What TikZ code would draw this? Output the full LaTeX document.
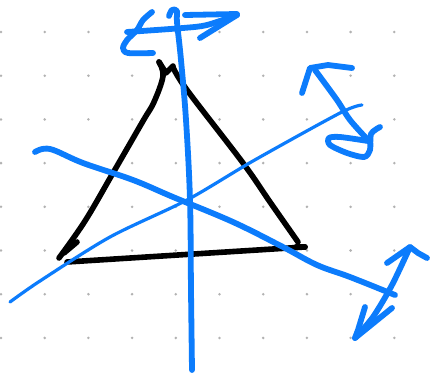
\documentclass[tikz,border=0pt]{standalone}
\definecolor{sketchblue}{RGB}{12,124,252}
\begin{document}
\begin{tikzpicture}[x=1pt, y=-1pt, line cap=round, line join=round,
    ink/.style={line width=5.6pt, black},
    pen/.style={line width=5.8pt, sketchblue},
    thinpen/.style={line width=3.2pt, sketchblue},
    griddot/.style={fill=black!30}]
  \fill[white] (0,0) rectangle (432,380);
  \useasboundingbox (0,0) rectangle (432,380);
  % dot grid
  \foreach \i in {0,...,9}
    \foreach \j in {0,...,8}
      \fill[griddot] (1+43.7*\i, 32+43.7*\j) circle (1.4);
  % triangle
  \coordinate (apex) at (159,62);
  \coordinate (left) at (59,258);
  \coordinate (right) at (305,247);
  \draw[ink] plot[smooth, tension=0.6] coordinates {(apex) (163,76) (154,102) (143,121) (113,173) (85,221) (left)};
  \draw[ink] (77,242) -- (64,253);
  \draw[ink] (apex) -- (166,73) -- (173,66);
  \draw[ink] plot[smooth, tension=0.6] coordinates {(173,67) (187,90) (243,163) (270,202) (298,242)};
  \draw[ink] (67,262) -- (right);
  \draw[ink] (296,247) -- (right);
  % axis through the apex
  \draw[pen] plot[smooth, tension=0.6] coordinates {(169,16) (172,10) (177,11) (177,22) (181,60) (186,120) (190,200) (191,290) (192,370)};
  % axis through the left vertex
  \draw[thinpen] plot[smooth, tension=0.5] coordinates {(10,302) (40,281) (110,237) (187,200) (253,161) (340,113) (362,105)};
  % axis through the right vertex
  \draw[pen] plot[smooth, tension=0.6] coordinates {(35,152) (50,149) (83,163) (133,180) (173,197) (233,222) (283,247) (317,265) (350,277) (395,295)};
  % top arrow
  \draw[pen] plot[smooth, tension=0.5] coordinates {(127,32) (183,28) (207,25) (237,15)};
  \draw[pen] (185,15) -- (237,14);
  \draw[pen] (200,38) -- (237,15);
  \draw[pen] plot[smooth, tension=0.5] coordinates {(152,12) (143,20) (137,30) (127,40) (123,48) (128,53) (153,53)};
  % upper right arrow
  \draw[pen] plot[smooth, tension=0.5] coordinates {(315,70) (337,100) (350,120) (368,140)};
  \draw[pen] (302,93) -- (310,68) -- (328,65) -- (352,68);
  \draw[pen] plot[smooth, tension=0.5] coordinates {(380,127) (371,134) (370,150) (364,157) (347,153) (330,145) (329,138) (340,137) (368,141)};
  % lower right arrow
  \draw[pen] plot[smooth, tension=0.5] coordinates {(410,247) (392,285) (373,317) (355,338)};
  \draw[pen] (387,263) -- (410,247) -- (418,253) -- (427,258);
  \draw[pen] (365,307) -- (358,330) -- (355,338) -- (392,308);
\end{tikzpicture}
\end{document}
